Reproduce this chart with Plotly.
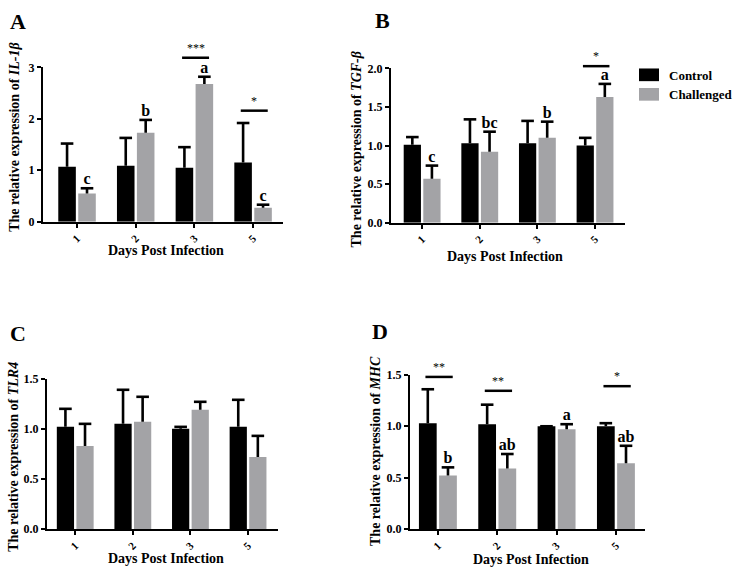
import plotly.graph_objects as go

W, H = 739, 578
FAM = "Liberation Serif, Times New Roman, Times, DejaVu Serif, serif"

days = ["1", "2", "3", "5"]
group_names = ["Control", "Challenged"]
group_colors = ["#000000", "#a3a3a6"]

# IL-1beta
il1b_control = [1.07, 1.09, 1.05, 1.15]
il1b_control_se = [0.45, 0.54, 0.40, 0.77]
il1b_challenged = [0.55, 1.73, 2.68, 0.27]
il1b_challenged_se = [0.10, 0.25, 0.14, 0.06]
il1b_letters = ["c", "b", "a", "c"]
il1b_sig_days = ["3", "5"]
il1b_sig_marks = ["***", "*"]
il1b_sig_y = [3.19, 2.16]

# TGF-beta
tgfb_control = [1.01, 1.03, 1.03, 1.00]
tgfb_control_se = [0.10, 0.31, 0.29, 0.10]
tgfb_challenged = [0.57, 0.92, 1.10, 1.63]
tgfb_challenged_se = [0.17, 0.26, 0.21, 0.17]
tgfb_letters = ["c", "bc", "b", "a"]
tgfb_sig_days = ["5"]
tgfb_sig_marks = ["*"]
tgfb_sig_y = [2.03]

# TLR4
tlr4_control = [1.02, 1.05, 1.00, 1.02]
tlr4_control_se = [0.18, 0.34, 0.02, 0.27]
tlr4_challenged = [0.83, 1.07, 1.19, 0.72]
tlr4_challenged_se = [0.22, 0.25, 0.08, 0.21]
tlr4_letters = ["", "", "", ""]
tlr4_sig_days = []
tlr4_sig_marks = []
tlr4_sig_y = []

# MHC
mhc_control = [1.03, 1.02, 1.00, 1.00]
mhc_control_se = [0.33, 0.19, 0.00, 0.03]
mhc_challenged = [0.52, 0.59, 0.97, 0.64]
mhc_challenged_se = [0.08, 0.14, 0.05, 0.17]
mhc_letters = ["b", "ab", "a", "ab"]
mhc_sig_days = ["1", "2", "5"]
mhc_sig_marks = ["**", "**", "*"]
mhc_sig_y = [1.48, 1.345, 1.39]

panels = [
    dict(label="A", gene="IL-1β",
         ctrl=il1b_control, ctrl_se=il1b_control_se,
         chal=il1b_challenged, chal_se=il1b_challenged_se,
         letters=il1b_letters, sig_days=il1b_sig_days, sig_marks=il1b_sig_marks, sig_y=il1b_sig_y,
         ymax=3, yticks=[0, 1, 2, 3], yfmt="{:.0f}",
         px=(43, 283, 62, 220), xr=[-0.58, 3.51],
         lab=(18, 15), ytitle=(15, 133), xtitle=(166, 250)),
    dict(label="B", gene="TGF-β",
         ctrl=tgfb_control, ctrl_se=tgfb_control_se,
         chal=tgfb_challenged, chal_se=tgfb_challenged_se,
         letters=tgfb_letters, sig_days=tgfb_sig_days, sig_marks=tgfb_sig_marks, sig_y=tgfb_sig_y,
         ymax=2, yticks=[0, 0.5, 1, 1.5, 2], yfmt="{:.1f}",
         px=(391, 625, 63, 221), xr=[-0.54, 3.52],
         lab=(382, 14), ytitle=(356, 146), xtitle=(505, 256)),
    dict(label="C", gene="TLR4",
         ctrl=tlr4_control, ctrl_se=tlr4_control_se,
         chal=tlr4_challenged, chal_se=tlr4_challenged_se,
         letters=tlr4_letters, sig_days=tlr4_sig_days, sig_marks=tlr4_sig_marks, sig_y=tlr4_sig_y,
         ymax=1.5, yticks=[0, 0.5, 1, 1.5], yfmt="{:.1f}",
         px=(47, 278, 381, 535), xr=[-0.49, 3.52],
         lab=(18, 335), ytitle=(14, 461), xtitle=(166, 565)),
    dict(label="D", gene="MHC",
         ctrl=mhc_control, ctrl_se=mhc_control_se,
         chal=mhc_challenged, chal_se=mhc_challenged_se,
         letters=mhc_letters, sig_days=mhc_sig_days, sig_marks=mhc_sig_marks, sig_y=mhc_sig_y,
         ymax=1.5, yticks=[0, 0.5, 1, 1.5], yfmt="{:.1f}",
         px=(410, 645, 377, 535), xr=[-0.47, 3.49],
         lab=(380, 333), ytitle=(376, 455), xtitle=(531, 566)),
]

BARGAP = 0.32

fig = go.Figure()
annotations = []
shapes = []


def fx(px):
    return px / W


def fy(py):
    return 1 - py / H


for i, p in enumerate(panels):
    n = "" if i == 0 else str(i + 1)
    xa, ya = "x" + n, "y" + n
    series = [(p["ctrl"], p["ctrl_se"], None), (p["chal"], p["chal_se"], p["letters"])]
    for g, (vals, se, letters) in enumerate(series):
        fig.add_trace(go.Bar(
            x=days, y=vals, name=group_names[g], xaxis=xa, yaxis=ya,
            marker=dict(color=group_colors[g], line=dict(width=0)),
            offsetgroup=str(g), showlegend=False,
            error_y=dict(type="data", symmetric=False, array=se, arrayminus=[0] * len(se),
                         width=0, thickness=2.6, color="black"),
        ))
        tops = [v + s for v, s in zip(vals, se)]
        # error-bar caps (top only)
        fig.add_trace(go.Scatter(
            x=days, y=tops, xaxis=xa, yaxis=ya, orientation="v", offsetgroup=str(g),
            mode="markers",
            marker=dict(symbol="line-ew", size=9, color="black", line=dict(width=2.6, color="black")),
            cliponaxis=False, showlegend=False, hoverinfo="skip",
        ))
        if letters and any(letters):
            fig.add_trace(go.Scatter(
                x=days, y=tops, xaxis=xa, yaxis=ya, orientation="v", offsetgroup=str(g),
                mode="text", text=letters, textposition="top center",
                textfont=dict(family=FAM, size=16, color="black", weight="bold"),
                marker=dict(size=0),
                cliponaxis=False, showlegend=False, hoverinfo="skip",
            ))

    x0p, x1p, y0p, y1p = p["px"]
    fig.update_layout(**{
        ("xaxis" + n): dict(
            domain=[fx(x0p), fx(x1p)], anchor=ya, type="category", range=p["xr"],
            showline=True, linewidth=2, linecolor="black", ticks="outside", ticklen=4,
            tickwidth=2, tickcolor="black", tickangle=-45, showgrid=False, zeroline=False,
            tickfont=dict(family=FAM, size=11, color="black", weight="bold"),
        ),
        ("yaxis" + n): dict(
            domain=[fy(y1p), fy(y0p)], anchor=xa, range=[0, p["ymax"]],
            tickvals=p["yticks"], ticktext=[p["yfmt"].format(t) for t in p["yticks"]],
            showline=True, linewidth=2, linecolor="black", ticks="outside", ticklen=4,
            tickwidth=2, tickcolor="black", showgrid=False, zeroline=False,
            tickfont=dict(family=FAM, size=12, color="black", weight="bold"),
        ),
    })

    # significance brackets (y given in data units, placed via the axis domain so they
    # may sit above the plotted range without being clipped)
    for d, mark, yv in zip(p["sig_days"], p["sig_marks"], p["sig_y"]):
        k = days.index(d)
        yd = yv / p["ymax"]
        shapes.append(dict(type="line", xref=xa, yref=ya + " domain", x0=k - 0.21, x1=k + 0.25,
                           y0=yd, y1=yd, line=dict(color="black", width=2.5)))
        annotations.append(dict(xref=xa, yref=ya + " domain", x=k + 0.02, y=yd, text=mark,
                                showarrow=False, yanchor="bottom", yshift=1,
                                font=dict(family=FAM, size=12, color="black")))

    # panel label
    annotations.append(dict(xref="paper", yref="paper", x=fx(p["lab"][0]), y=fy(p["lab"][1]),
                            text="<b>" + p["label"] + "</b>", showarrow=False,
                            xanchor="center", yanchor="middle",
                            font=dict(family=FAM, size=22, color="black")))
    # axis titles
    annotations.append(dict(xref="paper", yref="paper", x=fx(p["ytitle"][0]), y=fy(p["ytitle"][1]),
                            text="<b>The relative expression of <i>" + p["gene"] + "</i></b>",
                            showarrow=False, textangle=-90, xanchor="center", yanchor="middle",
                            font=dict(family=FAM, size=14, color="black")))
    annotations.append(dict(xref="paper", yref="paper", x=fx(p["xtitle"][0]), y=fy(p["xtitle"][1]),
                            text="<b>Days Post Infection</b>", showarrow=False,
                            xanchor="center", yanchor="middle",
                            font=dict(family=FAM, size=14, color="black")))

# manual legend
for g, name in enumerate(group_names):
    top = 63 + g * 20
    shapes.append(dict(type="rect", xref="paper", yref="paper",
                       x0=fx(639), x1=fx(659), y0=fy(top + 13), y1=fy(top),
                       fillcolor=group_colors[g], line=dict(width=0)))
    annotations.append(dict(xref="paper", yref="paper", x=fx(667), y=fy(top + 7),
                            text="<b>" + name + "</b>", showarrow=False,
                            xanchor="left", yanchor="middle",
                            font=dict(family=FAM, size=13, color="black")))

fig.update_layout(
    width=W, height=H, margin=dict(l=0, r=0, t=0, b=0),
    paper_bgcolor="white", plot_bgcolor="white",
    font=dict(family=FAM, color="black"),
    barmode="group", bargap=BARGAP, bargroupgap=0.12,
    scattermode="group", scattergap=BARGAP,
    showlegend=False, annotations=annotations, shapes=shapes,
)

fig.write_html("out.html")
